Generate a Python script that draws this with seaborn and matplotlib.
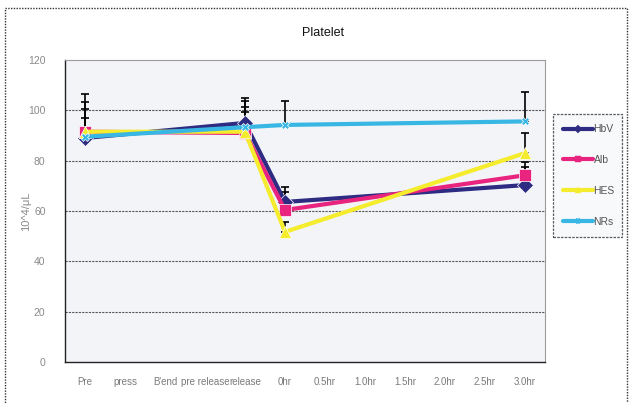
import numpy as np
import pandas as pd
import matplotlib
matplotlib.use("Agg")
import matplotlib.pyplot as plt
import seaborn as sns
from matplotlib.patches import Rectangle

# ---------------- data ----------------
categories = ["Pre", "press", "B'end", "pre release", "release", "0hr",
              "0.5hr", "1.0hr", "1.5hr", "2.0hr", "2.5hr", "3.0hr"]
time_points = ["Pre", "release", "0hr", "3.0hr"]

hbv = [89.0, 95.0, 63.6, 70.3]
alb = [91.5, 91.0, 60.4, 74.2]
hes = [91.5, 91.5, 51.7, 83.0]
nrs = [89.5, 93.3, 94.2, 95.6]

# upper error (SD) per series
hbv_err = [8.0, 10.0, 6.1, 7.0]
alb_err = [9.0, 10.5, 7.3, 5.2]
hes_err = [12.0, 12.4, 4.0, 7.9]
nrs_err = [17.0, 6.1, 9.4, 11.8]

series_names = ["HbV", "Alb", "HES", "NRs"]
yticks = [0, 20, 40, 60, 80, 100, 120]
title = "Platelet"
ylabel = "10^4/μL"

colors = {"HbV": "#2e2c82", "Alb": "#e8247f", "HES": "#f4ec2c", "NRs": "#38b6e4"}
markers = {"HbV": "D", "Alb": "s", "HES": "^", "NRs": "X"}
msizes = {"HbV": 8, "Alb": 8, "HES": 9, "NRs": 6}

values = {"HbV": hbv, "Alb": alb, "HES": hes, "NRs": nrs}
errors = {"HbV": hbv_err, "Alb": alb_err, "HES": hes_err, "NRs": nrs_err}

rows = []
for s in series_names:
    for tp, v, e in zip(time_points, values[s], errors[s]):
        rows.append({"series": s, "time": tp, "x": categories.index(tp),
                     "value": v, "err": e})
df = pd.DataFrame(rows)

# ---------------- figure ----------------
sns.set_theme(style="white")
plt.rcParams["font.family"] = ["Liberation Sans", "DejaVu Sans"]

W, H = 630, 403
fig = plt.figure(figsize=(W / 100, H / 100), dpi=100)
fig.patch.set_facecolor("white")
ax = fig.add_axes([65 / W, 1 - 362 / H, (545 - 65) / W, (362 - 60) / H])
ax.set_facecolor("#f2f4f8")

# error bars (upper only) drawn first, under lines
for s in series_names:
    d = df[df.series == s]
    ax.errorbar(d["x"], d["value"], yerr=[np.zeros(len(d)), d["err"]],
                fmt="none", ecolor="black", elinewidth=1.2, capsize=3,
                capthick=1.2, zorder=2)

sns.lineplot(data=df, x="x", y="value", hue="series", style="series",
             hue_order=series_names, style_order=series_names,
             palette=colors, markers=markers, dashes=False,
             linewidth=3.0, markersize=8, markeredgewidth=0.5,
             ax=ax, zorder=3, legend=False)
for line, s in zip(ax.get_lines()[-len(series_names):], series_names):
    line.set_markersize(msizes[s])

ax.set_xlim(-0.5, len(categories) - 0.5)
ax.set_ylim(0, 120)
ax.set_yticks(yticks)
ax.set_yticklabels([str(t) for t in yticks], color="#8a8a8a", fontsize=7.5)
ax.set_xticks(range(len(categories)))
ax.set_xticklabels(categories, color="#7a7a7a", fontsize=7)
ax.set_xticks(np.arange(-0.5, len(categories), 1.0), minor=True)
ax.tick_params(axis="x", which="major", length=0, pad=11)
ax.tick_params(axis="x", which="minor", length=3, direction="in", color="#333333")
ax.tick_params(axis="y", length=0, pad=14)
ax.set_xlabel("")
ax.set_ylabel(ylabel, color="#8a8a8a", fontsize=8, labelpad=-2)

for y in yticks[1:-1]:
    ax.axhline(y, color="#555555", lw=0.8, ls=(0, (2, 1)), zorder=1)

for side in ["top", "right"]:
    ax.spines[side].set_color("#9a9a9a")
    ax.spines[side].set_linewidth(0.8)
    ax.spines[side].set_linestyle((0, (2, 1)))
for side in ["left", "bottom"]:
    ax.spines[side].set_color("#222222")
    ax.spines[side].set_linewidth(1.0)

# legend (lines with small markers, outside the plot area on the right)
handles = [plt.Line2D([], [], color=colors[s], lw=3.0, marker=markers[s],
                      markersize=4, markeredgewidth=0.3)
           for s in series_names]
leg = fig.legend(handles, series_names, loc="center",
                 bbox_to_anchor=(553 / W, 1 - 238 / H, (622 - 553) / W, (238 - 113) / H),
                 bbox_transform=fig.transFigure, mode="expand",
                 frameon=True, fancybox=False, fontsize=7.5, handlelength=2.8,
                 handletextpad=0.1, labelspacing=2.0, borderpad=1.0,
                 borderaxespad=0, markerfirst=True)
leg.get_frame().set_edgecolor("#333333")
leg.get_frame().set_linewidth(0.9)
leg.get_frame().set_linestyle((0, (2, 1)))
leg.get_frame().set_facecolor("#f7f8fa")
for t in leg.get_texts():
    t.set_color("#555555")

fig.text(323 / W, 1 - 33 / H, title, ha="center", va="center",
         fontsize=9, color="#111111")

# outer dotted frame
fig.patches.append(Rectangle((5 / W, -0.05), (627 - 5) / W, 1 - 8 / H + 0.05,
                             transform=fig.transFigure, fill=False,
                             edgecolor="#333333", lw=1.0, ls=(0, (1, 1))))

fig.savefig("out.png", dpi=100)
